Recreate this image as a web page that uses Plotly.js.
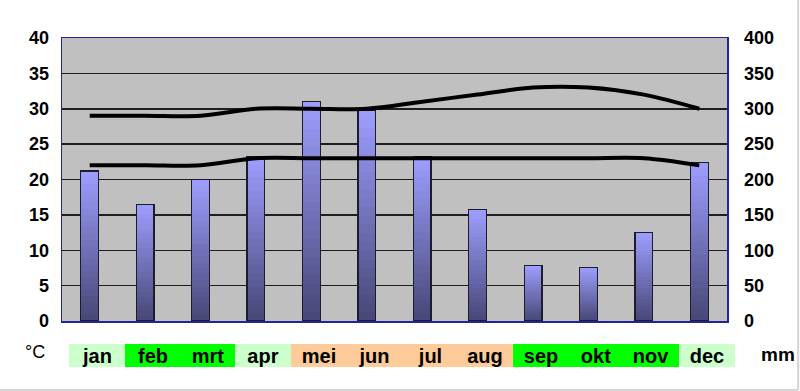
<!DOCTYPE html>
<html><head><meta charset="utf-8">
<script src="https://cdn.plot.ly/plotly-3.0.1.min.js"></script>
<style>html,body{margin:0;padding:0;background:#fff}#chart{width:800px;height:391px}</style>
</head><body><div id="chart"></div>
<script>
// ---- data ----
const months = ['jan','feb','mrt','apr','mei','jun','jul','aug','sep','okt','nov','dec'];
const rainMm = [212,165,200,232,310,298,232,158,78,76,125,224];
const tempMax = [29,29,29,30,30,30,31,32,33,33,32,30];
const tempMin = [22,22,22,23,23,23,23,23,23,23,23,22];
const bandColors = ['#ccffcc','#00ff00','#00ff00','#ccffcc','#ffcc99','#ffcc99','#ffcc99','#ffcc99','#00ff00','#00ff00','#00ff00','#ccffcc'];

// ---- styling ----
const N = 24;
const cBottom = [70,70,118], cTop = [158,158,255];
const traces = [];
for (let k = 0; k < N; k++) {
  const t = (k + 0.5) / N;
  const c = cBottom.map((b, i) => Math.round(b + (cTop[i] - b) * t));
  traces.push({
    type:'bar', x: months, y: rainMm.map(v => v / N),
    marker:{color:`rgb(${c[0]},${c[1]},${c[2]})`, line:{width:0}},
    width:0.32, xaxis:'x', yaxis:'y', hoverinfo:'skip', showlegend:false
  });
}
traces.push({
  type:'bar', x: months, y: rainMm,
  marker:{color:'rgba(0,0,0,0)', line:{color:'#1c1c2c', width:1.3}},
  width:0.32, xaxis:'x', yaxis:'y2', hoverinfo:'skip', showlegend:false
});
[tempMax, tempMin].forEach(s => traces.push({
  type:'scatter', mode:'lines', x: months, y: s,
  line:{color:'#000', width:4, shape:'spline', smoothing:1},
  xaxis:'x', yaxis:'y3', showlegend:false
}));

const tickFont = {family:'Liberation Sans, Arial, sans-serif', size:18, weight:'bold', color:'#000'};
const frame = '#24249a';
const annotations = months.map((m, i) => ({
  xref:'x', yref:'paper', x: m, y: -0.122, xshift: 7.5,
  text: m, showarrow:false, bgcolor: bandColors[i], width: 56, height: 23,
  borderpad: 0, borderwidth: 0, xanchor:'center', yanchor:'middle',
  font:{family:'Liberation Sans, Arial, sans-serif', size:20, weight:'bold', color:'#000'}
}));
annotations.push({xref:'paper', yref:'paper', x:-0.041, y:-0.11, text:'°C', showarrow:false,
  xanchor:'center', yanchor:'middle', font:{family:'Liberation Sans, Arial, sans-serif', size:18, color:'#000'}});
annotations.push({xref:'paper', yref:'paper', x:1.077, y:-0.118, text:'mm', showarrow:false,
  xanchor:'center', yanchor:'middle', font:{family:'Liberation Sans, Arial, sans-serif', size:19, weight:'bold', color:'#000'}});

const layout = {
  width:800, height:391,
  margin:{l:62, r:73, t:38, b:70, pad:0},
  paper_bgcolor:'#ffffff', plot_bgcolor:'#c0c0c0',
  barmode:'stack', bargap:0,
  showlegend:false,
  xaxis:{type:'category', range:[-0.5, 11.5], showticklabels:false, showgrid:false,
    showline:true, mirror:true, linecolor:frame, linewidth:1.5, ticks:'', zeroline:false, fixedrange:true},
  yaxis:{range:[0,400], dtick:50, side:'right', showgrid:true, gridcolor:'#1e1e1e', gridwidth:1.5,
    tickfont:tickFont, ticklabelstandoff:12, showline:true, mirror:true, linecolor:frame, linewidth:1.5,
    zeroline:false, ticks:'', fixedrange:true},
  yaxis2:{overlaying:'y', range:[0,400], visible:false, fixedrange:true},
  yaxis3:{overlaying:'y', side:'left', range:[0,40], dtick:5, showgrid:false, zeroline:false,
    tickfont:tickFont, ticklabelstandoff:12, ticks:'', showline:false, fixedrange:true},
  annotations: annotations,
  shapes:[
    {type:'line', xref:'paper', yref:'paper', x0:-0.1, x1:1.107, y0:-0.2438, y1:-0.2438, line:{color:'#d4d4d4', width:2}},
    {type:'line', xref:'paper', yref:'paper', x0:1.107, x1:1.107, y0:-0.2438, y1:1.2, line:{color:'#d4d4d4', width:2}}
  ]
};
Plotly.newPlot('chart', traces, layout, {displayModeBar:false, staticPlot:true});
</script></body></html>
